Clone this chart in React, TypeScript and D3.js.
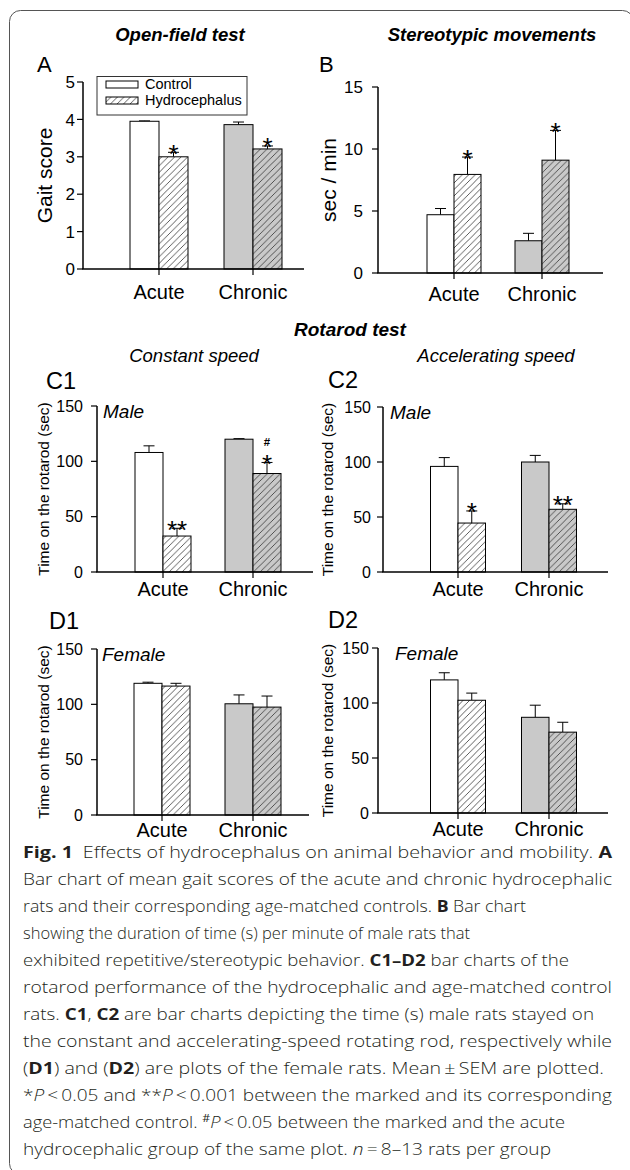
import * as d3 from 'd3'

const GROUPS = ['Acute', 'Chronic']
const SERIES = ['Control', 'Hydrocephalus']

// A: open-field gait score (mean, upper SEM)
const GAIT_CONTROL = [3.95, 3.86]
const GAIT_CONTROL_ERR = [0.01, 0.07]
const GAIT_HYDRO = [3.0, 3.21]
const GAIT_HYDRO_ERR = [0.12, 0.08]
const GAIT_STARS = ['*', '*']
const GAIT_TICKS = [0, 1, 2, 3, 4, 5]

// B: stereotypic movements, sec / min
const STEREO_CONTROL = [4.7, 2.6]
const STEREO_CONTROL_ERR = [0.5, 0.6]
const STEREO_HYDRO = [7.95, 9.1]
const STEREO_HYDRO_ERR = [1.4, 2.4]
const STEREO_STARS = ['*', '*']
const STEREO_TICKS = [0, 5, 10, 15]

// C1: male, constant speed
const C1_CONTROL = [108, 120]
const C1_CONTROL_ERR = [6, 0.5]
const C1_HYDRO = [32.5, 89]
const C1_HYDRO_ERR = [7, 10]
const C1_STARS = ['**', '*']
const C1_HASH = ['', '#']

// C2: male, accelerating speed
const C2_CONTROL = [96, 100]
const C2_CONTROL_ERR = [8, 6]
const C2_HYDRO = [44.5, 57]
const C2_HYDRO_ERR = [11, 5]
const C2_STARS = ['*', '**']

// D1: female, constant speed
const D1_CONTROL = [119, 100.5]
const D1_CONTROL_ERR = [1, 8]
const D1_HYDRO = [116.5, 97.5]
const D1_HYDRO_ERR = [2.5, 10]

// D2: female, accelerating speed
const D2_CONTROL = [121, 87]
const D2_CONTROL_ERR = [6.5, 11]
const D2_HYDRO = [102.5, 73.5]
const D2_HYDRO_ERR = [6.5, 9]

const ROTAROD_TICKS = [0, 50, 100, 150]
const NONE = ['', '']

const FONT = '"Liberation Sans", Arial, Helvetica, sans-serif'
const CAPTION_FONT = '"Open Sans", "Noto Sans", sans-serif'
const GROUP_FILL = ['#ffffff', '#c9c9c9']

const PANELS = [
  {
    letter: 'A', letterX: 37, letterY: 72, letterSize: 22,
    left: 83, right: 304, y0: 269, yTop: 82, yMax: 5, ticks: GAIT_TICKS,
    centers: [159, 253], barW: 29, tickSize: 17, labelGap: 8, xLabelY: 299,
    yLabel: 'Gait score', yLabelX: 52, yLabelSize: 21,
    control: GAIT_CONTROL, controlErr: GAIT_CONTROL_ERR, hydro: GAIT_HYDRO, hydroErr: GAIT_HYDRO_ERR,
    stars: GAIT_STARS, hash: NONE, sex: '', sexX: 0,
  },
  {
    letter: 'B', letterX: 319, letterY: 72, letterSize: 22,
    left: 378, right: 603, y0: 273, yTop: 87, yMax: 15, ticks: STEREO_TICKS,
    centers: [454, 542], barW: 27, tickSize: 17, labelGap: 15, xLabelY: 301,
    yLabel: 'sec / min', yLabelX: 336, yLabelSize: 21,
    control: STEREO_CONTROL, controlErr: STEREO_CONTROL_ERR, hydro: STEREO_HYDRO, hydroErr: STEREO_HYDRO_ERR,
    stars: STEREO_STARS, hash: NONE, sex: '', sexX: 0,
  },
  {
    letter: 'C1', letterX: 46, letterY: 389, letterSize: 23.5,
    left: 97, right: 313, y0: 572, yTop: 406, yMax: 150, ticks: ROTAROD_TICKS,
    centers: [163, 253], barW: 28, tickSize: 16, labelGap: 14, xLabelY: 596,
    yLabel: 'Time on the rotarod (sec)', yLabelX: 49, yLabelSize: 15.5,
    control: C1_CONTROL, controlErr: C1_CONTROL_ERR, hydro: C1_HYDRO, hydroErr: C1_HYDRO_ERR,
    stars: C1_STARS, hash: C1_HASH, sex: 'Male', sexX: 103,
  },
  {
    letter: 'C2', letterX: 328, letterY: 388, letterSize: 23.5,
    left: 383, right: 608, y0: 572, yTop: 407, yMax: 150, ticks: ROTAROD_TICKS,
    centers: [458, 549], barW: 27.5, tickSize: 16, labelGap: 12, xLabelY: 596,
    yLabel: 'Time on the rotarod (sec)', yLabelX: 333, yLabelSize: 15.5,
    control: C2_CONTROL, controlErr: C2_CONTROL_ERR, hydro: C2_HYDRO, hydroErr: C2_HYDRO_ERR,
    stars: C2_STARS, hash: NONE, sex: 'Male', sexX: 390,
  },
  {
    letter: 'D1', letterX: 49, letterY: 629, letterSize: 23.5,
    left: 97, right: 309, y0: 815, yTop: 649, yMax: 150, ticks: ROTAROD_TICKS,
    centers: [162, 253], barW: 28, tickSize: 16, labelGap: 14, xLabelY: 837,
    yLabel: 'Time on the rotarod (sec)', yLabelX: 49, yLabelSize: 15.5,
    control: D1_CONTROL, controlErr: D1_CONTROL_ERR, hydro: D1_HYDRO, hydroErr: D1_HYDRO_ERR,
    stars: NONE, hash: NONE, sex: 'Female', sexX: 102,
  },
  {
    letter: 'D2', letterX: 328, letterY: 628, letterSize: 23.5,
    left: 378, right: 608, y0: 813, yTop: 648, yMax: 150, ticks: ROTAROD_TICKS,
    centers: [458, 549], barW: 27.5, tickSize: 16, labelGap: 9, xLabelY: 836,
    yLabel: 'Time on the rotarod (sec)', yLabelX: 333, yLabelSize: 15.5,
    control: D2_CONTROL, controlErr: D2_CONTROL_ERR, hydro: D2_HYDRO, hydroErr: D2_HYDRO_ERR,
    stars: NONE, hash: NONE, sex: 'Female', sexX: 395,
  },
]

const TITLES = [
  { text: 'Open-field test', x: 180, y: 41, size: 18.5, weight: 700, style: 'italic' },
  { text: 'Stereotypic movements', x: 492, y: 41, size: 18.5, weight: 700, style: 'italic' },
  { text: 'Rotarod test', x: 350, y: 336, size: 19, weight: 700, style: 'italic' },
  { text: 'Constant speed', x: 194, y: 362, size: 18.5, weight: 400, style: 'italic' },
  { text: 'Accelerating speed', x: 496, y: 362, size: 18.5, weight: 400, style: 'italic' },
]

// caption: [text, kind] segments, kind b = bold, i = italic, s = superscript
const CAPTION = [
  [['Fig. 1', 'b'], ['\u2002Effects of hydrocephalus on animal behavior and mobility. '], ['A', 'b']],
  [['Bar chart of mean gait scores of the acute and chronic hydrocephalic']],
  [['rats and their corresponding age-matched controls. '], ['B', 'b'], [' Bar chart']],
  [['showing the duration of time (s) per minute of male rats that']],
  [['exhibited repetitive/stereotypic behavior. '], ['C1–D2', 'b'], [' bar charts of the']],
  [['rotarod performance of the hydrocephalic and age-matched control']],
  [['rats. '], ['C1', 'b'], [', '], ['C2', 'b'], [' are bar charts depicting the time (s) male rats stayed on']],
  [['the constant and accelerating-speed rotating rod, respectively while']],
  [['('], ['D1', 'b'], [') and ('], ['D2', 'b'], [') are plots of the female rats. Mean\u2009±\u2009SEM are plotted.']],
  [['*'], ['P', 'i'], ['\u2009<\u20090.05 and **'], ['P', 'i'], ['\u2009<\u20090.001 between the marked and its corresponding']],
  [['age-matched control. '], ['#', 's'], ['P', 'i'], ['\u2009<\u20090.05 between the marked and the acute']],
  [['hydrocephalic group of the same plot. '], ['n', 'i'], ['\u2009=\u20098–13 rats per group']],
]
const CAPTION_ENDS = [612, 612, 526, 470, 569, 612, 594, 612, 604, 612, 565, 551]

function Panel({ p }: { p: any }) {
  const y = d3.scaleLinear().domain([0, p.yMax]).range([p.y0, p.yTop])
  const x = d3.scalePoint<string>().domain(GROUPS).range(p.centers)
  const series = [
    { vals: p.control, errs: p.controlErr, stars: NONE, hash: NONE, hatch: false },
    { vals: p.hydro, errs: p.hydroErr, stars: p.stars, hash: p.hash, hatch: true },
  ]
  const capW = 11
  return (
    <g fontFamily={FONT} fill="#000">
      <text x={p.letterX} y={p.letterY} fontSize={p.letterSize}>{p.letter}</text>
      {series.map((s, si) =>
        GROUPS.map((g, gi) => {
          const cx = x(g) as number
          const bx = si === 0 ? cx - p.barW : cx
          const top = y(s.vals[gi])
          const errY = y(s.vals[gi] + s.errs[gi])
          const mid = bx + p.barW / 2
          return (
            <g key={`${si}-${gi}`}>
              <line x1={mid} x2={mid} y1={top} y2={errY} stroke="#000" strokeWidth={1} />
              <line x1={mid - capW / 2} x2={mid + capW / 2} y1={errY} y2={errY} stroke="#000" strokeWidth={1} />
              <rect x={bx} y={top} width={p.barW} height={p.y0 - top} fill={GROUP_FILL[gi]} />
              {s.hatch && <rect x={bx} y={top} width={p.barW} height={p.y0 - top} fill="url(#hatch)" />}
              <rect x={bx} y={top} width={p.barW} height={p.y0 - top} fill="none" stroke="#000" strokeWidth={1} />
              {s.stars[gi] && (
                <text x={mid} y={errY + 10.5} fontSize={26} textAnchor="middle">{s.stars[gi]}</text>
              )}
              {s.hash[gi] && (
                <text x={mid} y={errY - 16} fontSize={11.5} fontWeight={700} textAnchor="middle">{s.hash[gi]}</text>
              )}
            </g>
          )
        })
      )}
      {/* axes */}
      <line x1={p.left} x2={p.left} y1={p.yTop} y2={p.y0} stroke="#000" strokeWidth={1.5} />
      <line x1={p.left - 0.75} x2={p.right} y1={p.y0} y2={p.y0} stroke="#000" strokeWidth={1.5} />
      {p.ticks.map((t: number) => (
        <g key={t}>
          <line x1={p.left - 6} x2={p.left} y1={y(t)} y2={y(t)} stroke="#000" strokeWidth={1.2} />
          <text x={p.left - p.labelGap} y={y(t)} dy="0.36em" fontSize={p.tickSize} textAnchor="end">{t}</text>
        </g>
      ))}
      {GROUPS.map(g => (
        <g key={g}>
          <line x1={x(g)} x2={x(g)} y1={p.y0} y2={p.y0 + 6} stroke="#000" strokeWidth={1.2} />
          <text x={x(g)} y={p.xLabelY} fontSize={20} textAnchor="middle">{g}</text>
        </g>
      ))}
      <text
        transform={`translate(${p.yLabelX},${(p.yTop + p.y0) / 2}) rotate(-90)`}
        fontSize={p.yLabelSize}
        textAnchor="middle"
      >
        {p.yLabel}
      </text>
      {p.sex && (
        <text x={p.sexX} y={p.yTop + 12} fontSize={19} fontStyle="italic">{p.sex}</text>
      )}
    </g>
  )
}

function Legend() {
  return (
    <g fontFamily={FONT}>
      <rect x={97} y={76.5} width={150} height={38.5} fill="#fff" stroke="#333" strokeWidth={1} />
      {SERIES.map((s, i) => (
        <g key={s}>
          <rect x={106} y={81 + i * 16} width={32} height={7} fill="#fff" />
          {i === 1 && <rect x={106} y={81 + i * 16} width={32} height={7} fill="url(#hatch)" />}
          <rect x={106} y={81 + i * 16} width={32} height={7} fill="none" stroke="#000" strokeWidth={1} />
          <text x={145} y={88.5 + i * 16} fontSize={14.5}>{s}</text>
        </g>
      ))}
    </g>
  )
}

function Caption() {
  const top = 858
  const lh = 27
  return (
    <g fontFamily={CAPTION_FONT} fontSize={16.5} fill="#231f20">
      {CAPTION.map((line, li) => (
        <text
          key={li}
          x={23}
          y={top + li * lh}
          textLength={CAPTION_ENDS[li] - 23}
          lengthAdjust="spacingAndGlyphs"
        >
          {line.map((seg, si) => {
            const [t, k] = seg as [string, string?]
            const prevSup = si > 0 && (line[si - 1] as string[])[1] === 's'
            if (k === 's') return <tspan key={si} fontSize={11} dy={-6}>{t}</tspan>
            return (
              <tspan
                key={si}
                dy={prevSup ? 6 : undefined}
                fontWeight={k === 'b' ? 700 : 300}
                fontStyle={k === 'i' ? 'italic' : 'normal'}
              >
                {t}
              </tspan>
            )
          })}
        </text>
      ))}
    </g>
  )
}

export default function App() {
  return (
    <svg width={630} height={1170} style={{ position: 'absolute', left: 0, top: 0, background: '#fff' }}>
      <defs>
        <pattern id="hatch" patternUnits="userSpaceOnUse" width={6.5} height={6.5}>
          <path d="M-1,1 l2,-2 M0,6.5 l6.5,-6.5 M5.5,7.5 l2,-2" stroke="#333" strokeWidth={0.8} />
        </pattern>
      </defs>
      <rect x={9.5} y={10.5} width={624} height={1164} rx={11} fill="none" stroke="#555" strokeWidth={1} />
      {TITLES.map(t => (
        <text
          key={t.text}
          x={t.x}
          y={t.y}
          fontFamily={FONT}
          fontSize={t.size}
          fontWeight={t.weight}
          fontStyle={t.style}
          textAnchor="middle"
        >
          {t.text}
        </text>
      ))}
      {PANELS.map(p => <Panel key={p.letter} p={p} />)}
      <Legend />
      <Caption />
    </svg>
  )
}
